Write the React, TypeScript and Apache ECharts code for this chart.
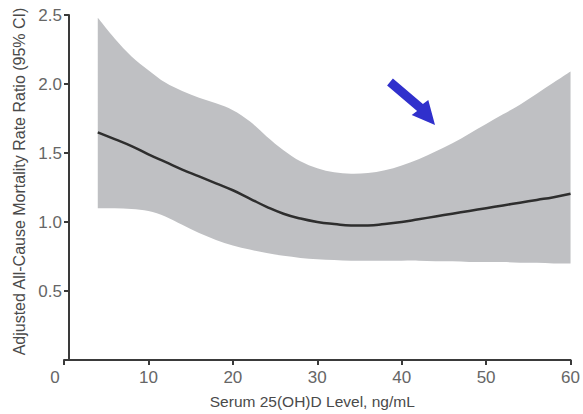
import React, { useEffect, useRef } from "react";
import * as echarts from "echarts";

const xValues = [4, 6, 8, 10, 12, 14, 16, 18, 20, 22, 24, 26, 28, 30, 32, 34, 36, 38, 40, 42, 44, 46, 48, 50, 52, 54, 56, 58, 60];
const estimate = [1.65, 1.6, 1.55, 1.49, 1.435, 1.38, 1.33, 1.28, 1.23, 1.17, 1.11, 1.06, 1.025, 1.0, 0.985, 0.975, 0.975, 0.985, 1.0, 1.02, 1.04, 1.06, 1.08, 1.1, 1.12, 1.14, 1.16, 1.18, 1.205];
const lowerCI = [1.1, 1.1, 1.095, 1.08, 1.04, 0.98, 0.92, 0.87, 0.83, 0.8, 0.775, 0.755, 0.74, 0.73, 0.725, 0.72, 0.72, 0.72, 0.72, 0.72, 0.715, 0.715, 0.71, 0.71, 0.71, 0.705, 0.705, 0.7, 0.7];
const upperCI = [2.48, 2.33, 2.2, 2.1, 2.01, 1.95, 1.9, 1.86, 1.81, 1.73, 1.62, 1.52, 1.44, 1.39, 1.36, 1.35, 1.355, 1.375, 1.41, 1.455, 1.51, 1.57, 1.64, 1.71, 1.78, 1.85, 1.93, 2.01, 2.09];
const xTicks = [0, 10, 20, 30, 40, 50, 60];
const yTicks = [0.5, 1.0, 1.5, 2.0, 2.5];
const xTitle = "Serum 25(OH)D Level, ng/mL";
const yTitle = "Adjusted All-Cause Mortality Rate Ratio (95% CI)";

const FONT = '"Liberation Sans Narrow", "Arial Narrow", "Liberation Sans", Arial, sans-serif';

function curvePath(pts: number[][]): string {
  let d = "";
  const n = pts.length;
  for (let i = 0; i < n - 1; i++) {
    const p0 = pts[Math.max(0, i - 1)];
    const p1 = pts[i];
    const p2 = pts[i + 1];
    const p3 = pts[Math.min(n - 1, i + 2)];
    const c1x = p1[0] + (p2[0] - p0[0]) / 6;
    const c1y = p1[1] + (p2[1] - p0[1]) / 6;
    const c2x = p2[0] - (p3[0] - p1[0]) / 6;
    const c2y = p2[1] - (p3[1] - p1[1]) / 6;
    d += ` C${c1x},${c1y} ${c2x},${c2y} ${p2[0]},${p2[1]}`;
  }
  return d;
}

export default function App() {
  const ref = useRef<HTMLDivElement>(null);
  useEffect(() => {
    if (!ref.current) return;
    const chart = echarts.init(ref.current, undefined, { renderer: "svg" });
    const lineData = xValues.map((x, i) => [x, estimate[i]]);
    chart.setOption({
      animation: false,
      grid: { left: 64, right: 9, top: 15, bottom: 52, containLabel: false },
      xAxis: {
        type: "value",
        min: xTicks[0],
        max: xTicks[xTicks.length - 1],
        interval: 10,
        z: 20,
        name: xTitle,
        nameLocation: "middle",
        nameGap: 33,
        nameTextStyle: { fontFamily: FONT, fontSize: 15.5, color: "#4a4a4a", padding: [0, 10, 0, 0] },
        axisLine: { show: true, lineStyle: { color: "#3a3a3a", width: 2 } },
        axisTick: { show: true, inside: false, length: 5, lineStyle: { color: "#3a3a3a", width: 2 } },
        axisLabel: {
          margin: 9,
          fontFamily: FONT,
          fontSize: 17,
          color: "#666",
          formatter: (v: number) => (v === 0 ? "{z|0}" : String(v)),
          rich: { z: { fontFamily: FONT, fontSize: 17, color: "#666", padding: [0, 18, 0, 0] } },
        },
        splitLine: { show: false },
      },
      yAxis: {
        type: "value",
        min: 0,
        max: yTicks[yTicks.length - 1],
        interval: 0.5,
        offset: -5,
        z: 20,
        name: yTitle,
        nameLocation: "middle",
        nameGap: 40,
        nameTextStyle: { fontFamily: FONT, fontSize: 16, color: "#4a4a4a", padding: [0, 0, 0, 12] },
        axisLine: { show: true, lineStyle: { color: "#3a3a3a", width: 2 } },
        axisTick: { show: true, inside: false, length: 5, lineStyle: { color: "#3a3a3a", width: 2 } },
        axisLabel: {
          margin: 7,
          fontFamily: FONT,
          fontSize: 17,
          color: "#666",
          formatter: (v: number) => (v === 0 ? "" : v.toFixed(1)),
        },
        splitLine: { show: false },
      },
      series: [
        {
          type: "custom",
          data: [0],
          silent: true,
          z: 1,
          renderItem: (_params: any, api: any) => {
            const up = xValues.map((x, i) => api.coord([x, upperCI[i]]));
            const lo = xValues.map((x, i) => api.coord([x, lowerCI[i]])).reverse();
            const d =
              `M${up[0][0]},${up[0][1]}` +
              curvePath(up) +
              ` L${lo[0][0]},${lo[0][1]}` +
              curvePath(lo) +
              " Z";
            return { type: "path", shape: { pathData: d }, style: { fill: "#bfc0c3" } };
          },
        },
        {
          type: "line",
          data: lineData,
          smooth: 0.5,
          symbol: "none",
          lineStyle: { color: "#2e2e2e", width: 2.5 },
          z: 5,
        },
      ],
      graphic: [
        {
          type: "polygon",
          shape: {
            points: [
              [392.9, 78.6],
              [422.9, 104.1],
              [428.3, 100],
              [435, 125],
              [411.7, 115],
              [417.1, 110.9],
              [387.1, 85.4],
            ],
          },
          style: { fill: "#3030cc" },
          z: 10,
        },
      ],
    });
    return () => chart.dispose();
  }, []);
  return <div ref={ref} style={{ position: "absolute", left: 0, top: 0, width: 583, height: 414 }} />;
}
